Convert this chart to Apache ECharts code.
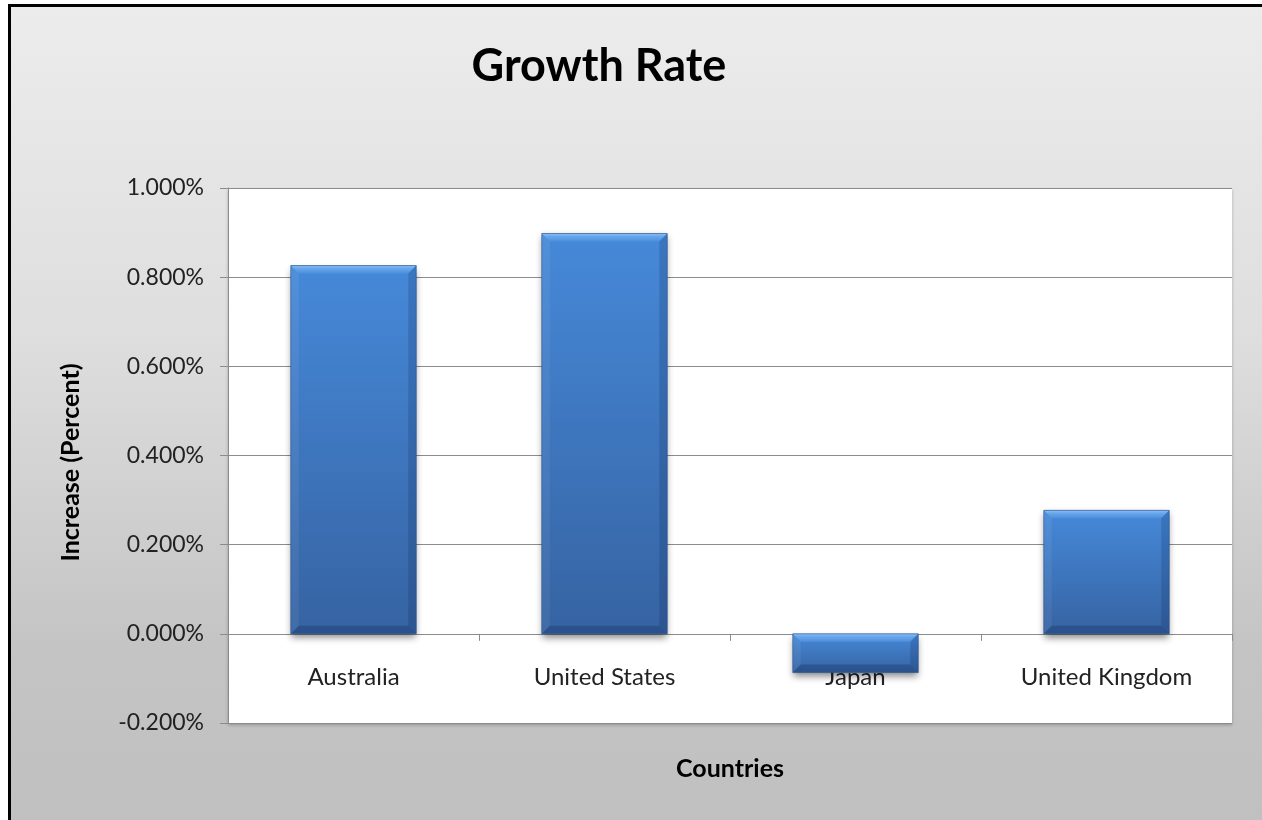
<!DOCTYPE html>
<html>
<head>
<meta charset="utf-8">
<script src="https://cdn.jsdelivr.net/npm/echarts@6/dist/echarts.min.js"></script>
<style>
html,body{margin:0;padding:0;background:#fff;overflow:hidden;}
#frame{position:absolute;left:8px;top:4px;width:1400px;height:1000px;
  border-top:3px solid #000;border-left:3px solid #000;
  background:linear-gradient(to bottom,#ececec 0px,#dedede 330px,#c4c4c4 640px,#c0c0c0 820px);}
#chart{position:absolute;left:0;top:0;width:1262px;height:820px;}
</style>
</head>
<body>
<div id="frame"></div>
<div id="chart"></div>
<script>
const categories = ["Australia", "United States", "Japan", "United Kingdom"];
const growthRate = [0.826, 0.898, -0.087, 0.277];
const yTicks = { min: -0.2, max: 1.0, step: 0.2 };
const titleText = "Growth Rate";
const xName = "Countries";
const yName = "Increase (Percent)";

const FONT = "Lato";
const chart = echarts.init(document.getElementById('chart'), null, { renderer: 'canvas' });

function renderBar(params, api) {
  const idx = api.value(0), v = api.value(1);
  const p0 = api.coord([idx, 0]);
  const p1 = api.coord([idx, v]);
  const bw = api.size([1, 0])[0] * 0.5;
  const left = p0[0] - bw / 2, right = left + bw;
  const top = Math.min(p0[1], p1[1]), bottom = Math.max(p0[1], p1[1]);
  const h = bottom - top;
  const b = Math.min(8, h / 2);
  return {
    type: 'group',
    children: [
      { type: 'rect', shape: { x: left, y: top, width: bw, height: h },
        style: {
          fill: new echarts.graphic.LinearGradient(0, 0, 0, 1, [
            { offset: 0, color: '#4689d9' },
            { offset: 1, color: '#3663a2' }
          ]),
          shadowColor: 'rgba(0,0,0,0.45)', shadowBlur: 7, shadowOffsetY: 4
        } },
      { type: 'polygon', shape: { points: [[left, top], [right, top], [right - b, top + b], [left + b, top + b]] },
        style: { fill: new echarts.graphic.LinearGradient(0, 0, 0, 1, [
          { offset: 0, color: '#8cc0f4' }, { offset: 0.35, color: '#6aa7ec' }, { offset: 1, color: '#4b8fdd' }
        ]) } },
      { type: 'polygon', shape: { points: [[left, top], [left + b, top + b], [left + b, bottom - b], [left, bottom]] },
        style: { fill: 'rgba(255,255,255,0.06)' } },
      { type: 'polygon', shape: { points: [[right, top], [right, bottom], [right - b, bottom - b], [right - b, top + b]] },
        style: { fill: 'rgba(0,20,60,0.16)' } },
      { type: 'polygon', shape: { points: [[left, bottom], [right, bottom], [right - b, bottom - b], [left + b, bottom - b]] },
        style: { fill: 'rgba(0,20,60,0.22)' } },
      { type: 'rect', shape: { x: left, y: top, width: bw, height: h },
        style: { fill: 'none', stroke: 'rgba(40,80,140,0.6)', lineWidth: 1 } }
    ]
  };
}

chart.setOption({
  backgroundColor: 'transparent',
  animation: false,
  title: {
    text: titleText, left: 594, top: 39, textAlign: 'center',
    textStyle: { fontFamily: FONT, fontWeight: 'bold', fontSize: 45, color: '#000' }
  },
  grid: {
    left: 228, right: 30, top: 188, bottom: 97,
    containLabel: false, outerBoundsMode: 'none',
    show: true, backgroundColor: '#ffffff', borderWidth: 0,
    shadowColor: 'rgba(0,0,0,0.25)', shadowBlur: 3, shadowOffsetY: 2
  },
  xAxis: {
    type: 'category', data: categories, z: 0,
    axisLine: { onZero: true, lineStyle: { color: '#8c8c8c', width: 1 } },
    axisTick: { show: true, length: 7, lineStyle: { color: '#8c8c8c' } },
    axisLabel: { fontFamily: FONT, fontSize: 24, color: '#222', margin: -58 },
    name: xName, nameLocation: 'middle', nameGap: 33,
    nameTextStyle: { fontFamily: FONT, fontWeight: 'bold', fontSize: 25, color: '#000' }
  },
  yAxis: {
    type: 'value', min: yTicks.min, max: yTicks.max, interval: yTicks.step,
    axisLine: { show: true, lineStyle: { color: '#8c8c8c' } },
    axisTick: { show: true, length: 8, lineStyle: { color: '#8c8c8c' } },
    splitLine: { lineStyle: { color: '#8c8c8c', width: 1 } },
    axisLabel: {
      fontFamily: FONT, fontSize: 23, color: '#222', margin: 24,
      formatter: v => v.toFixed(3) + '%'
    },
    name: yName, nameLocation: 'middle', nameGap: 145,
    nameTextStyle: { fontFamily: FONT, fontWeight: 'bold', fontSize: 25, color: '#000', padding: [0, 14, 0, 0] }
  },
  series: [{
    type: 'custom', z: 5,
    renderItem: renderBar,
    encode: { x: 0, y: 1 },
    data: categories.map((c, i) => [i, growthRate[i]])
  }]
});
</script>
</body>
</html>
